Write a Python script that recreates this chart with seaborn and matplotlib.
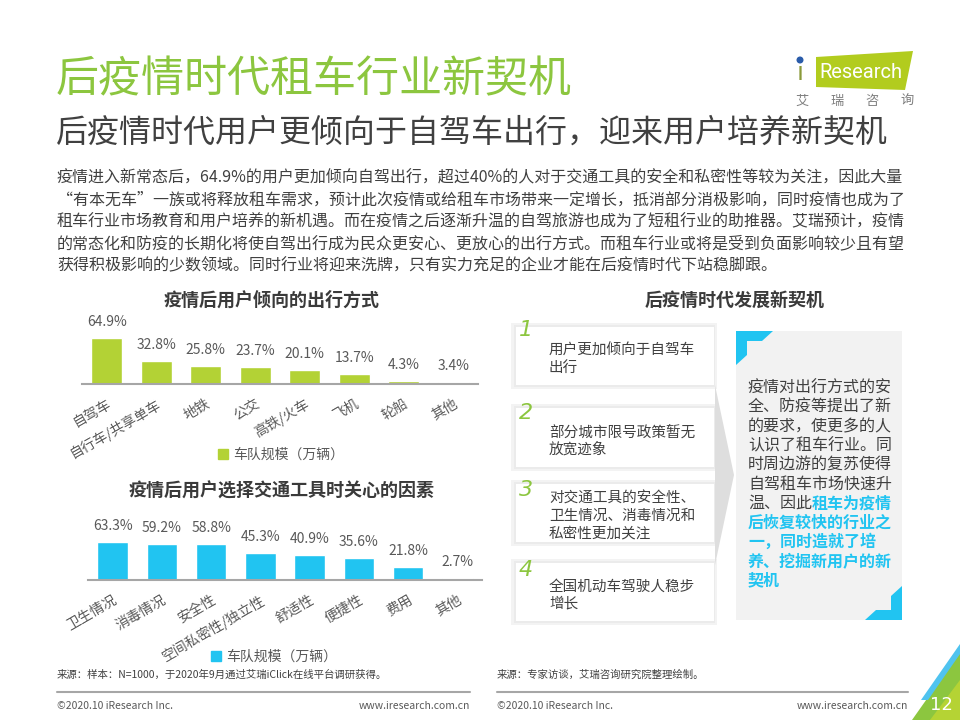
import matplotlib
matplotlib.use('Agg')
import matplotlib.pyplot as plt
import seaborn as sns
import pandas as pd
from matplotlib.patches import Polygon, Rectangle, Patch

sns.set_theme(style='white')
plt.rcParams['font.family'] = ['Noto Sans CJK SC', 'DejaVu Sans']

# ---------------- data / text ----------------
title = '后疫情时代租车行业新契机'
subtitle = '后疫情时代用户更倾向于自驾车出行，迎来用户培养新契机'
body_lines = [
    '疫情进入新常态后，64.9%的用户更加倾向自驾出行，超过40%的人对于交通工具的安全和私密性等较为关注，因此大量',
    '“有本无车”一族或将释放租车需求，预计此次疫情或给租车市场带来一定增长，抵消部分消极影响，同时疫情也成为了',
    '租车行业市场教育和用户培养的新机遇。而在疫情之后逐渐升温的自驾旅游也成为了短租行业的助推器。艾瑞预计，疫情',
    '的常态化和防疫的长期化将使自驾出行成为民众更安心、更放心的出行方式。而租车行业或将是受到负面影响较少且有望',
    '获得积极影响的少数领域。同时行业将迎来洗牌，只有实力充足的企业才能在后疫情时代下站稳脚跟。',
]
chart1_title = '疫情后用户倾向的出行方式'
cats1 = ['自驾车', '自行车/共享单车', '地铁', '公交', '高铁/火车', '飞机', '轮船', '其他']
vals1 = [64.9, 32.8, 25.8, 23.7, 20.1, 13.7, 4.3, 3.4]
chart2_title = '疫情后用户选择交通工具时关心的因素'
cats2 = ['卫生情况', '消毒情况', '安全性', '空间私密性/独立性', '舒适性', '便捷性', '费用', '其他']
vals2 = [63.3, 59.2, 58.8, 45.3, 40.9, 35.6, 21.8, 2.7]
legend_label = '车队规模（万辆）'
panel_title = '后疫情时代发展新契机'
step_nums = ['1', '2', '3', '4']
steps = [
    ['用户更加倾向于自驾车', '出行'],
    ['部分城市限号政策暂无', '放宽迹象'],
    ['对交通工具的安全性、', '卫生情况、消毒情况和', '私密性更加关注'],
    ['全国机动车驾驶人稳步', '增长'],
]
summary_plain = ['疫情对出行方式的安', '全、防疫等提出了新', '的要求，使更多的人',
                 '认识了租车行业。同', '时周边游的复苏使得', '自驾租车市场快速升', '温、因此']
summary_highlight = ['租车为疫情', '后恢复较快的行业之', '一，同时造就了培',
                     '养、挖掘新用户的新', '契机']
source1 = '来源：样本：N=1000，于2020年9月通过艾瑞iClick在线平台调研获得。'
source2 = '来源：专家访谈，艾瑞咨询研究院整理绘制。'
copyright_txt = '©2020.10 iResearch Inc.'
website = 'www.iresearch.com.cn'
page_no = '12'

GREEN_T = '#8cc63f'
GREEN_B = '#b3d235'
CYAN = '#21c4f1'
DARK = '#404040'
GRAY = '#595959'

W, H = 960, 720
fig = plt.figure(figsize=(9.6, 7.2), dpi=100)
fig.patch.set_facecolor('white')

bg = fig.add_axes([0, 0, 1, 1])
bg.set_xlim(0, W)
bg.set_ylim(H, 0)
bg.axis('off')

# titles
bg.text(56, 80, title, fontsize=31, color=GREEN_T, va='center', ha='left')
bg.text(56, 133, subtitle, fontsize=23, color=DARK, va='center', ha='left')

# logo
bg.add_patch(Polygon([(816, 57), (913, 51), (905, 90), (816, 87)], closed=True,
                     fc='#b2cc1e', ec='none'))
bg.text(800, 73, '\u0131', fontsize=18, color='#8a9a3a', va='center', ha='center',
        family='DejaVu Sans')
bg.add_patch(plt.Circle((800, 60), 2.8, color='#2a5caa'))
bg.text(819, 72, 'Research', fontsize=14.5, color='white', va='center', ha='left',
        family='Roboto')
for i, ch in enumerate('艾瑞咨询'):
    bg.text(802 + i * 35, 101, ch, fontsize=9.5, color='#7f7f7f', va='center', ha='center')

# body
for i, line in enumerate(body_lines):
    bg.text(57, 178 + i * 22, line, fontsize=11.5, color=DARK, va='center', ha='left')

# chart titles
bg.text(272, 300, chart1_title, fontsize=13, color='#3a3a3a', weight='bold',
        va='center', ha='center')
bg.text(282, 491, chart2_title, fontsize=13, color='#3a3a3a', weight='bold',
        va='center', ha='center')
bg.text(735, 300, panel_title, fontsize=13, color='#3a3a3a', weight='bold',
        va='center', ha='center')

# ---------------- bar charts ----------------
def bar_chart(rect, cats, vals, color, legend_xy):
    ax = fig.add_axes(rect)
    ax.patch.set_alpha(0)
    df = pd.DataFrame({'cat': cats, 'val': vals})
    sns.barplot(data=df, x='cat', y='val', color=color, saturation=1, width=0.62,
                errorbar=None, ax=ax)
    ax.set_xlim(-0.5, len(cats) - 0.5)
    ax.set_ylim(0, 100)
    ax.set_xlabel('')
    ax.set_ylabel('')
    ax.set_yticks([])
    for s in ['left', 'right', 'top']:
        ax.spines[s].set_visible(False)
    ax.spines['bottom'].set_color('#a6a6a6')
    ax.spines['bottom'].set_linewidth(1.5)
    ax.set_xticks(range(len(cats)))
    ax.set_xticklabels(cats, rotation=30, ha='right', va='top',
                       rotation_mode='anchor', fontsize=10, color=GRAY)
    ax.tick_params(axis='x', length=0, pad=9)
    for i, v in enumerate(vals):
        ax.annotate(f'{v}%', (i, v), xytext=(0, 11.5), textcoords='offset points',
                    ha='center', va='center', fontsize=10, color=GRAY)
    fig.legend(handles=[Patch(color=color)], labels=[legend_label], loc='center',
               bbox_to_anchor=legend_xy, frameon=False, fontsize=10,
               handlelength=0.7, handleheight=0.7, handletextpad=0.4,
               labelcolor=GRAY)
    return ax

bar_chart([82 / W, 1 - 384 / H, 396 / W, 71 / H], cats1, vals1, GREEN_B,
          (281 / W, 1 - 455 / H))
bar_chart([88 / W, 1 - 580 / H, 394 / W, 60.5 / H], cats2, vals2, CYAN,
          (274 / W, 1 - 657 / H))

# ---------------- right panel ----------------
boxes = [(327, 385), (408, 467), (484, 542), (563, 621)]
num_y = [330, 413, 490, 570]
for (y0, y1), ny, num, lines in zip(boxes, num_y, step_nums, steps):
    bg.add_patch(Rectangle((511, y0 - 4), 206, y1 - y0 + 8, fc='#f3f3f3', ec='none'))
    bg.add_patch(Rectangle((514, y0 - 2), 201, y1 - y0 + 4, fc='#ebebeb', ec='none'))
    bg.add_patch(Rectangle((516, y0), 198, y1 - y0, fc='white', ec='none'))
    bg.text(526, ny, num, fontsize=16, color=GREEN_T, style='italic',
            family='DejaVu Sans', va='center', ha='center')
    n = len(lines)
    mid = (y0 + y1) / 2 + 3
    for j, ln in enumerate(lines):
        bg.text(549, mid + (j - (n - 1) / 2) * 17, ln, fontsize=10.5, color=DARK,
                va='center', ha='left')

# chevron
bg.add_patch(Polygon([(715, 385), (734, 475), (715, 565)], closed=True,
                     fc='#dedede', ec='none'))

# summary panel
bg.add_patch(Rectangle((736, 331), 166, 289, fc='#f2f2f2', ec='none'))
bg.add_patch(Polygon([(736, 331), (773, 331), (762, 341), (747, 341), (747, 355),
                      (736, 365)], closed=True, fc=CYAN, ec='none'))
bg.add_patch(Polygon([(902, 620), (865, 620), (876, 610), (891, 610), (891, 596),
                      (902, 586)], closed=True, fc=CYAN, ec='none'))
ly = 388
step = 19.2
for i, ln in enumerate(summary_plain):
    bg.text(748, ly + i * step, ln, fontsize=11.5, color=DARK, va='center', ha='left')
k = len(summary_plain) - 1
bg.text(748 + 4 * 16, ly + k * step, summary_highlight[0], fontsize=11.5, color=CYAN,
        weight='bold', va='center', ha='left')
for i, ln in enumerate(summary_highlight[1:]):
    bg.text(748, ly + (k + 1 + i) * step, ln, fontsize=11.5, color=CYAN,
            weight='bold', va='center', ha='left')

# ---------------- footer ----------------
bg.text(57, 675, source1, fontsize=7.5, color=DARK, va='center', ha='left')
bg.text(497, 675, source2, fontsize=7.5, color=DARK, va='center', ha='left')
bg.plot([57, 470], [692, 692], color='#a6a6a6', lw=1.5)
bg.plot([497, 908], [692, 692], color='#a6a6a6', lw=1.5)
bg.text(57, 706, copyright_txt, fontsize=7.5, color=GRAY, va='center', ha='left')
bg.text(470, 706, website, fontsize=7.5, color=GRAY, va='center', ha='right')
bg.text(497, 706, copyright_txt, fontsize=7.5, color=GRAY, va='center', ha='left')
bg.text(908, 706, website, fontsize=7.5, color=GRAY, va='center', ha='right')

# page corner
bg.add_patch(Polygon([(912, 720), (960, 652), (960, 720)], closed=True,
                     fc='#8cc63f', ec='none'))
bg.add_patch(Polygon([(930, 720), (960, 680), (960, 720)], closed=True,
                     fc='#b5d334', ec='none'))
bg.add_patch(Polygon([(921, 700), (960, 644), (960, 654), (928, 700)], closed=True,
                     fc='#4fc3ef', ec='none'))
bg.text(941, 705, page_no, fontsize=13, color='white', va='center', ha='center',
        family='DejaVu Sans')

fig.savefig('out.png', dpi=100, facecolor='white')
